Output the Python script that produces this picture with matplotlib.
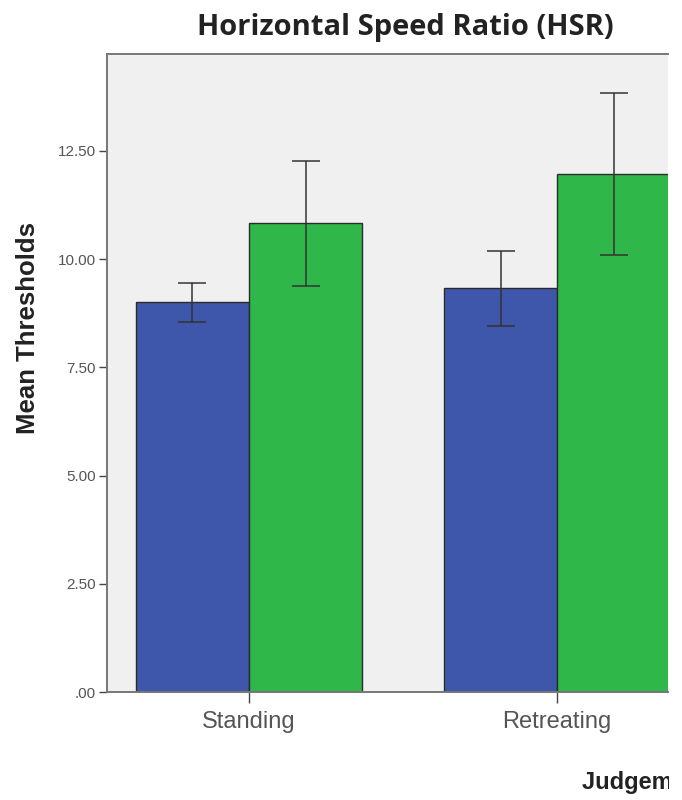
import numpy as np
import matplotlib
matplotlib.use("Agg")
import matplotlib.pyplot as plt
from matplotlib.transforms import Bbox, TransformedBbox

# values (SPSS style bar chart, cropped on the right)
categories = ["Standing", "Retreating"]
blue_means = [9.01, 9.33]
blue_lo = [8.55, 8.45]
blue_hi = [9.45, 10.18]
green_means = [10.83, 11.96]
green_lo = [9.38, 10.09]
green_hi = [12.26, 13.83]
yticks = [0, 2.5, 5, 7.5, 10, 12.5]

BLUE = "#3f57ab"
GREEN = "#2fb74a"

fig = plt.figure(figsize=(6.82, 8), dpi=100)
ax = fig.add_axes([107 / 682, 1 - 692 / 800, (668 - 107) / 682, (692 - 54) / 800])
ax.set_facecolor("#f0f0f0")

x = np.arange(len(categories))
w = 0.367

def draw(xs, means, lo, hi, color):
    means = np.array(means)
    err = [means - np.array(lo), np.array(hi) - means]
    ax.bar(xs, means, w, color=color, edgecolor="#2b2b2b", linewidth=1.0, zorder=2)
    ax.errorbar(xs, means, yerr=err, fmt="none", ecolor="#333333",
                elinewidth=1.1, capsize=10, capthick=1.1, zorder=3)

draw(x - w / 2, blue_means, blue_lo, blue_hi, BLUE)
draw(x + w / 2, green_means, green_lo, green_hi, GREEN)

ax.set_xlim(-0.461, 1.360)
ax.set_ylim(0, 14.74)

ax.set_yticks(yticks)
ax.set_yticklabels([f"{v:.2f}".lstrip("0") if v < 1 else f"{v:.2f}" for v in yticks],
                   fontsize=11, color="#555555", family="Liberation Sans")
ax.set_xticks(x)
ax.set_xticklabels(categories, fontsize=17, color="#555555", family="Liberation Sans")
ax.tick_params(axis="y", length=6, width=1, color="#444444", pad=2)
ax.tick_params(axis="x", length=8, width=1, color="#444444", pad=6)

for s in ["left", "top", "bottom"]:
    ax.spines[s].set_color("#777777")
    ax.spines[s].set_linewidth(1.4)
ax.spines["right"].set_visible(False)

fig.text(405 / 682, 1 - 28 / 800, "Horizontal Speed Ratio (HSR)", ha="center", va="center",
         fontsize=21, fontweight="bold", family="Open Sans", color="#222222")
fig.text(28 / 682, 1 - 328 / 800, "Mean Thresholds", ha="center", va="center",
         rotation=90, fontsize=18.5, fontweight="bold", family="Liberation Sans", color="#222222")

# the source image is cut off at the right, so clip the axis title there
lab = fig.text(582 / 682, 1 - 783 / 800, "Judgement Type", ha="left", va="center",
               fontsize=17, fontweight="bold", family="Liberation Sans", color="#222222")
lab.set_clip_box(TransformedBbox(Bbox([[0, 0], [669 / 682, 1]]), fig.transFigure))
lab.set_clip_on(True)

fig.savefig("out.png", dpi=100, facecolor="white")
